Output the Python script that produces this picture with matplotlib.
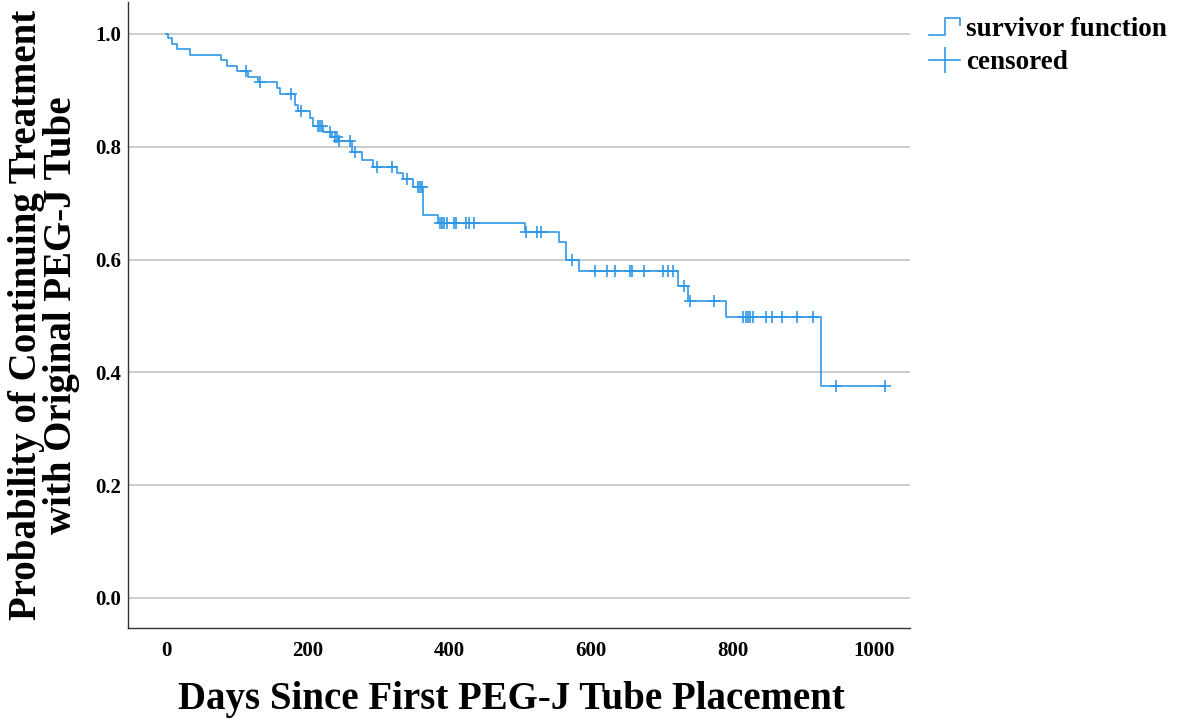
import numpy as np
import matplotlib
matplotlib.use("Agg")
import matplotlib.pyplot as plt
from matplotlib.lines import Line2D
from matplotlib.legend_handler import HandlerBase

# event times (days) and survival right after each event
event_days = np.array([3, 8, 15, 34, 78, 86, 100, 116, 130, 156, 161, 182, 187,
                       203, 208, 222, 235, 243, 263, 276, 292, 326, 335, 349,
                       363, 384, 507, 554, 565, 583, 723, 737, 790, 925])
surv = np.array([0.992, 0.983, 0.973, 0.963, 0.954, 0.944, 0.934, 0.924, 0.914,
                 0.904, 0.894, 0.874, 0.864, 0.851, 0.836, 0.827, 0.818, 0.811,
                 0.790, 0.777, 0.765, 0.753, 0.742, 0.729, 0.679, 0.665, 0.649,
                 0.632, 0.599, 0.579, 0.553, 0.527, 0.498, 0.375])

# censored observations
censor_days = np.array([113, 132, 176, 191, 215, 217, 220, 231, 239, 241, 244,
                        259, 267, 298, 319, 340, 355, 359, 362, 387, 390, 392,
                        396, 406, 409, 423, 427, 435, 508, 523, 529, 573, 605,
                        623, 634, 655, 658, 675, 701, 709, 716, 731, 739, 773,
                        815, 818, 821, 824, 828, 847, 855, 870, 890, 913, 946,
                        1015])

x_ticks = [0, 200, 400, 600, 800, 1000]
y_ticks = [0.0, 0.2, 0.4, 0.6, 0.8, 1.0]

blue = "#2f97e6"
serif = "Liberation Serif"


class StepHandler(HandlerBase):
    # small step icon like SPSS uses for the survivor function
    def create_artists(self, legend, orig_handle, xdescent, ydescent,
                       width, height, fontsize, trans):
        x0 = -xdescent
        y0 = -ydescent
        h = height * 0.95
        xs = [x0, x0 + 0.5 * width, x0 + 0.5 * width, x0 + width, x0 + width]
        ys = [y0 + 0.05 * h, y0 + 0.05 * h, y0 + h, y0 + h, y0 + 0.6 * h]
        ln = Line2D(xs, ys, color=orig_handle.get_color(),
                    lw=orig_handle.get_linewidth(), transform=trans)
        return [ln]


# step curve from 0 to the last censored time
t_line = np.concatenate([[0], event_days, [censor_days[-1]]])
s_line = np.concatenate([[1.0], surv, [surv[-1]]])

idx = np.searchsorted(event_days, censor_days, side="right") - 1
censor_s = np.where(idx >= 0, surv[np.clip(idx, 0, None)], 1.0)

fig = plt.figure(figsize=(11.8, 7.24), dpi=100)
ax = fig.add_axes([128 / 1180, 1 - 628 / 724, 782 / 1180, 626 / 724])

ax.step(t_line, s_line, where="post", color=blue, lw=1.2, zorder=3)
ax.plot(censor_days, censor_s, "+", color=blue, ms=8, mew=1.2, zorder=4)

ax.set_xlim(-53.6, 1050)
ax.set_ylim(-0.0532, 1.0567)
ax.set_xticks(x_ticks)
ax.set_yticks(y_ticks)
ax.set_yticklabels([f"{v:.1f}" for v in y_ticks])
ax.tick_params(axis="both", length=0, labelsize=15)
ax.tick_params(axis="x", pad=9)
ax.tick_params(axis="y", pad=5)
for lab in ax.get_xticklabels() + ax.get_yticklabels():
    lab.set_fontfamily(serif)
    lab.set_fontweight("bold")

ax.grid(axis="y", color="#c8c8c8", lw=1.3)
ax.set_axisbelow(True)
for side in ["top", "right"]:
    ax.spines[side].set_visible(False)
for side in ["left", "bottom"]:
    ax.spines[side].set_color("#333333")
    ax.spines[side].set_linewidth(1.0)

ax.set_xlabel("Days Since First PEG-J Tube Placement", fontsize=28,
              fontfamily=serif, fontweight="bold", va="center")
ax.xaxis.set_label_coords(0.49, -0.114)
ax.set_ylabel("Probability of Continuing Treatment\nwith Original PEG-J Tube",
              fontsize=28, fontfamily=serif, fontweight="bold", va="center",
              linespacing=0.95)
ax.yaxis.set_label_coords(-0.1075, 0.5)

h_surv = Line2D([], [], color=blue, lw=1.2)
h_cens = Line2D([], [], color=blue, lw=1.2, marker="|", ms=19, mew=1.2)
leg = fig.legend([h_surv, h_cens], ["survivor function", "censored"],
                 loc="upper left", bbox_to_anchor=(929 / 1180, 1 - 17 / 724),
                 frameon=False, handlelength=1.15, handletextpad=0.22,
                 labelspacing=0.3, borderpad=0, borderaxespad=0,
                 handler_map={h_surv: StepHandler()},
                 prop={"family": serif, "weight": "bold", "size": 19.5})

fig.savefig("out.png", dpi=100)
